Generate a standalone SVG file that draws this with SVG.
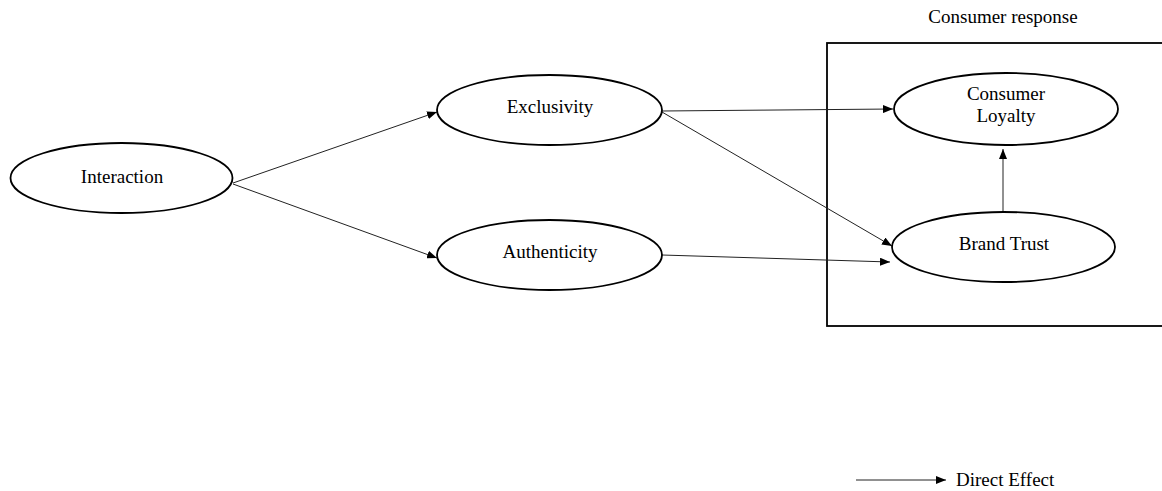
<svg xmlns="http://www.w3.org/2000/svg" width="1162" height="491" viewBox="0 0 1162 491">
<style>
.n{fill:#fff;stroke:#000;stroke-width:1.8}
.t{font-family:"Liberation Serif","Times New Roman",serif;font-size:19px;fill:#000;text-anchor:middle}
.c{stroke:#222;stroke-width:1;fill:none;marker-end:url(#ah)}
</style>
<defs>
<marker id="ah" viewBox="0 0 10 8" refX="10" refY="4" markerWidth="10" markerHeight="8" markerUnits="userSpaceOnUse" orient="auto">
<path d="M0,0 L10,4 L0,8 Z" fill="#000"/>
</marker>
</defs>
<rect width="1162" height="491" fill="#fff"/>
<g id="box">
<rect x="827" y="43" width="345" height="283" fill="none" stroke="#000" stroke-width="1.8"/>
<text class="t" x="1003" y="23">Consumer response</text>
</g>
<g id="connectors">
<line class="c" x1="233" y1="183" x2="437" y2="112"/>
<line class="c" x1="233" y1="184" x2="437" y2="258"/>
<line class="c" x1="662" y1="111" x2="893" y2="109"/>
<line class="c" x1="662" y1="112" x2="892" y2="246"/>
<line class="c" x1="662" y1="255" x2="890" y2="262"/>
<line class="c" x1="1003" y1="212" x2="1003" y2="149"/>
</g>
<g id="interaction">
<ellipse class="n" cx="121.5" cy="178" rx="111" ry="35"/>
<text class="t" x="122" y="183">Interaction</text>
</g>
<g id="exclusivity">
<ellipse class="n" cx="549.5" cy="110" rx="112.5" ry="35"/>
<text class="t" x="550" y="113">Exclusivity</text>
</g>
<g id="authenticity">
<ellipse class="n" cx="549.5" cy="255" rx="112.5" ry="35"/>
<text class="t" x="550" y="258">Authenticity</text>
</g>
<g id="loyalty">
<ellipse class="n" cx="1006" cy="109" rx="112" ry="36"/>
<text class="t" x="1006" y="100">Consumer</text>
<text class="t" x="1006" y="122">Loyalty</text>
</g>
<g id="trust">
<ellipse class="n" cx="1003.5" cy="247" rx="111.5" ry="35"/>
<text class="t" x="1004" y="250">Brand Trust</text>
</g>
<g id="legend">
<line class="c" x1="856" y1="480" x2="946" y2="480"/>
<text class="t" x="956" y="486" style="text-anchor:start">Direct Effect</text>
</g>
</svg>
